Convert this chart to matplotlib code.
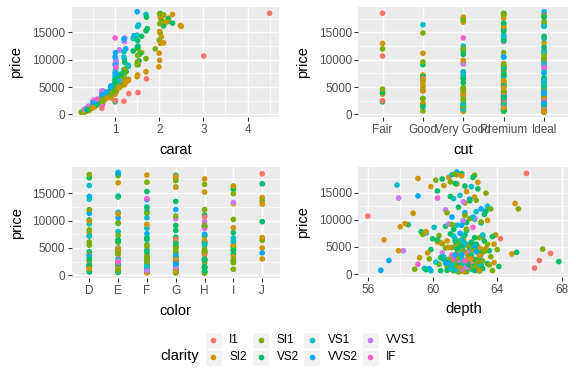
import numpy as np
import matplotlib.pyplot as plt
from matplotlib.patches import Rectangle
from matplotlib.ticker import FixedLocator

plt.rcParams['font.family'] = ['Liberation Sans', 'DejaVu Sans']

# ---------- categories ----------
clarity_levels = ['I1', 'SI2', 'SI1', 'VS2', 'VS1', 'VVS2', 'VVS1', 'IF']
clarity_colors = ['#F8766D', '#CD9600', '#7CAE00', '#00BE67',
                  '#00BFC4', '#00A9FF', '#C77CFF', '#FF61CC']
# rows below come in runs of one clarity: (clarity, number of rows)
clarity_blocks = [('I1', 8), ('SI2', 34), ('SI1', 48), ('VS2', 46), ('VS1', 30),
                  ('VVS2', 18), ('VVS1', 10), ('IF', 6),
                  ('SI2', 14), ('SI1', 20), ('VS2', 20), ('VS1', 12),
                  ('VVS2', 8), ('VVS1', 4), ('IF', 2)]
cut_levels = ['Fair', 'Good', 'Very Good', 'Premium', 'Ideal']
cut_letters = 'FGVPI'
color_levels = ['D', 'E', 'F', 'G', 'H', 'I', 'J']

# ---------- diamonds (one row = one diamond) ----------
carat = [
    4.50, 3.01, 1.52, 1.71, 1.20, 1.31, 0.70, 1.01,                                  # I1
    2.01, 2.02, 2.05, 2.10, 2.21, 2.00, 2.03, 2.30, 2.48, 2.01, 2.05, 1.99, 2.15,
    1.51, 1.70, 1.21, 1.02, 1.10, 1.03, 0.90, 0.91, 0.72, 0.70, 0.51, 0.40, 0.32,
    1.25, 1.50, 1.00, 0.80, 0.31, 1.13, 2.50, 1.52,                                  # SI2
    0.30, 0.33, 0.40, 0.51, 0.53, 0.60, 0.70, 0.71, 0.72, 0.90, 0.91, 1.00, 1.01,
    1.02, 1.05, 1.10, 1.20, 1.21, 1.30, 1.50, 1.51, 1.52, 1.60, 1.70, 2.00, 2.01,
    2.05, 2.10, 2.20, 2.02, 1.91, 0.31, 0.41, 0.50, 0.55, 0.76, 0.80, 1.00, 1.04,
    1.14, 1.23, 0.62, 0.35, 0.71, 1.01, 1.50, 2.01, 0.23,                            # SI1
    0.30, 0.32, 0.40, 0.42, 0.50, 0.52, 0.56, 0.70, 0.71, 0.74, 0.90, 0.92, 1.00,
    1.01, 1.03, 1.06, 1.12, 1.20, 1.22, 1.25, 1.50, 1.51, 1.55, 1.60, 1.70, 1.71,
    1.52, 2.02, 2.10, 2.20, 1.73, 0.31, 0.36, 0.55, 0.60, 0.75, 0.82, 1.04, 1.30,
    1.21, 1.41, 1.01, 1.54, 1.00, 0.51, 2.30,                                        # VS2
    0.30, 0.33, 0.40, 0.52, 0.54, 0.70, 0.71, 0.90, 1.00, 1.01, 1.02, 1.10, 1.20,
    1.30, 1.50, 1.51, 1.52, 1.70, 1.53, 0.31, 0.50, 0.61, 0.80, 1.00, 1.20, 0.40,
    0.72, 1.02, 1.41, 0.35,                                                          # VS1
    0.30, 0.40, 0.51, 0.55, 0.70, 0.71, 1.00, 1.01, 1.02, 1.20, 1.24, 1.50, 1.43,
    0.32, 0.61, 0.90, 1.00, 0.81,                                                    # VVS2
    0.31, 0.41, 0.52, 0.72, 1.00, 1.01, 1.21, 1.22, 0.70, 1.10,                      # VVS1
    0.35, 0.50, 0.60, 1.02, 0.72, 1.00,                                              # IF
    1.00, 1.01, 1.05, 1.11, 1.20, 0.90, 0.71, 0.50, 0.41, 1.03, 1.30, 0.76, 1.01,
    1.23,                                                                            # SI2
    0.30, 0.38, 0.42, 0.52, 0.58, 0.70, 0.72, 0.74, 0.90, 0.95, 1.00, 1.02, 1.06,
    1.11, 1.20, 0.31, 0.46, 0.57, 0.81, 1.03,                                        # SI1
    0.30, 0.34, 0.41, 0.50, 0.53, 0.61, 0.70, 0.72, 0.80, 0.90, 1.00, 1.01, 1.02,
    1.10, 1.14, 0.33, 0.45, 0.58, 0.91, 1.05,                                        # VS2
    0.31, 0.40, 0.51, 0.56, 0.71, 0.75, 0.90, 1.00, 1.01, 1.04, 0.33, 0.62,          # VS1
    0.31, 0.41, 0.50, 0.72, 0.90, 1.01, 0.35, 0.60,                                  # VVS2
    0.33, 0.50, 0.70, 1.02,                                                          # VVS1
    0.40, 0.70,                                                                      # IF
]
cut = ("FFPGIVPF"
       "PVPIPGFPPVIPVGPIVPGVPIGIPVPVFIIGPP"
       "IPVIGPIVPIVPIGPIVPIPIVPIPIVPIGFIPVIPIFVIPIGPIGPI"
       "IPIVIPGIPVIPIVPIGPIVIPVIPIGPIVPIPIVIPIPIVFIFGP"
       "IIPIVPIIPIVIPIPIVIGPIIPIIVIPII"
       "IIPIVIPIIPVIPIPIVI"
       "IIPIVIPIGI"
       "IIPIPV"
       "PVIGPVIPIGPIVP"
       "IPIVIPIGIPVIPIGIPVIP"
       "IPIVIPIGPIVIPIPIVPIG"
       "IIPVIPIIVPII"
       "IPIIPIVI"
       "IIPI"
       "IP")
color = ("JHHGFEDG"
         "HGJIHEJFIDGIEHDGFEHIJDFEGHIJDGFHGF"
         "EGFHDEGFIHEGDIFHGEJHGDFIJHGEFIHGEDFHGEHIDGFEHEDH"
         "FDEGHFEGDHFIGEDHFGEIFGHEFDGEIGIGHDEFGIHDFGJEHJ"
         "EGFDGEHFGEDIFHEGFGDHFEDHEGIFDG"
         "FEGDFGEDHFGEDHIGFJ"
         "FGEHFGIFED"
         "FEGHDF"
         "HIGJEFHDGIHFEG"
         "FEGHDGFIEHGDFEHGIEFG"
         "EFGDHEFHGDGEIFHDGFEH"
         "GEFDHGEFDIHE"
         "EFGDEHFG"
         "GFEH"
         "EF")
depth = [
    65.8, 56.0, 62.0, 64.2, 62.5, 67.3, 66.3, 66.6,
    62.1, 61.0, 62.6, 62.0, 59.1, 58.8, 65.1, 61.5, 60.7, 63.4, 61.8, 58.0, 62.8,
    63.9, 59.6, 62.2, 63.0, 61.0, 57.9, 62.9, 59.2, 61.7, 63.8, 62.3, 61.2, 62.0,
    60.3, 63.1, 64.9, 62.4, 61.9, 57.0, 59.9, 58.3,
    61.8, 61.3, 62.5, 61.6, 63.5, 60.4, 62.1, 61.0, 62.8, 61.5, 63.2, 62.2, 61.7,
    64.0, 60.6, 62.4, 62.9, 59.4, 61.9, 61.2, 62.0, 63.6, 60.9, 62.3, 62.7, 61.5,
    60.2, 62.6, 61.1, 63.3, 65.3, 62.0, 58.9, 62.7, 61.4, 61.8, 62.2, 66.8, 60.8,
    61.6, 62.1, 61.3, 63.7, 59.8, 62.5, 63.0, 61.4, 61.6,
    61.5, 60.9, 62.0, 63.1, 61.8, 62.4, 63.4, 61.2, 60.5, 62.6, 61.9, 62.9, 61.4,
    60.0, 62.0, 62.7, 63.7, 61.3, 62.1, 59.3, 61.6, 62.3, 63.2, 61.1, 60.3, 62.5,
    58.5, 61.8, 62.0, 60.6, 62.8, 61.7, 59.6, 62.2, 61.0, 61.6, 62.4, 61.5, 60.8,
    62.6, 63.3, 65.2, 61.9, 67.8, 64.1, 61.4,
    61.4, 62.0, 61.1, 61.9, 62.8, 60.7, 62.3, 61.6, 61.3, 62.1, 63.0, 61.8, 62.5,
    61.5, 61.7, 62.4, 63.4, 61.2, 57.8, 59.9, 62.6, 61.0, 62.2, 62.0, 62.7, 59.5,
    61.7, 60.1, 61.3, 62.4,
    61.6, 62.1, 60.8, 61.4, 62.9, 61.8, 61.2, 62.0, 61.7, 62.3, 63.0, 61.5, 59.1,
    56.8, 57.3, 61.9, 59.6, 62.7,
    61.8, 62.1, 61.6, 62.3, 61.0, 62.6, 61.9, 57.9, 58.2, 60.8,
    61.4, 62.0, 61.3, 62.5, 59.1, 60.3,
    62.2, 63.3, 61.4, 62.8, 60.9, 63.0, 62.5, 61.7, 62.9, 63.8, 61.9, 62.2, 59.7,
    60.5,
    62.1, 61.6, 62.4, 60.9, 61.8, 62.6, 63.1, 61.5, 62.0, 62.7, 61.2, 63.4, 62.3,
    61.7, 60.4, 62.9, 61.0, 62.2, 63.6, 61.9,
    61.9, 62.6, 61.3, 62.2, 63.0, 61.7, 60.7, 62.9, 61.4, 63.5, 62.4, 60.3, 61.8,
    62.6, 61.1, 60.5, 62.8, 61.6, 59.9, 63.2,
    61.6, 62.5, 61.2, 62.9, 61.8, 60.6, 62.3, 61.4, 63.1, 61.9, 62.7, 60.2,
    61.7, 62.2, 60.9, 61.4, 62.6, 61.8, 59.8, 63.0,
    61.5, 62.4, 60.6, 61.9,
    61.9, 61.2,
]
price = [
    18531, 10690, 4000, 6500, 2400, 3800, 1100, 2500,
    15200, 17800, 14200, 13100, 17600, 11200, 13000, 18300, 16300, 9900, 18100, 8700, 16900,
    7200, 7800, 5400, 4600, 4900, 4300, 3400, 3000, 2600, 2100, 1300, 800, 560,
    5900, 6900, 3700, 2900, 480, 6300, 16100, 9300,
    520, 600, 850, 1350, 1700, 1800, 2500, 2700, 2300, 3800, 4200, 5200, 6100,
    4500, 5600, 5900, 6700, 7300, 6400, 9100, 10800, 12000, 11300, 10200, 13600, 16600,
    17300, 18200, 17000, 14900, 12000, 420, 900, 1500, 1650, 2900, 3300, 4600, 4800,
    5300, 8300, 2000, 640, 2800, 4400, 9600, 18400, 380,
    620, 700, 950, 1000, 1500, 1750, 1900, 2600, 3000, 2700, 4200, 3900, 6000,
    6500, 7200, 5500, 6900, 8200, 9500, 7800, 12300, 13500, 11000, 14300, 15300, 17800,
    9100, 18500, 16200, 17500, 15700, 560, 800, 1800, 2100, 3100, 3400, 4700, 8800,
    10100, 11600, 4000, 9800, 2300, 1400, 16700,
    700, 780, 1000, 1800, 1700, 3100, 2800, 4600, 7000, 8000, 9400, 6200, 10500,
    9000, 14500, 16100, 12500, 18300, 16400, 600, 1600, 2300, 3700, 5700, 11500, 1050,
    2700, 8600, 13900, 900,
    800, 1200, 2000, 2500, 3300, 3600, 10500, 11300, 7500, 13800, 12000, 18800, 14400,
    700, 2500, 5200, 7600, 4100,
    900, 1300, 2600, 4300, 9200, 10300, 13300, 14000, 4300, 11800,
    1100, 2400, 2800, 8600, 1800, 14000,
    4100, 4700, 5100, 5000, 6100, 3600, 2300, 1200, 700, 5500, 6200, 2700, 3900,
    5800,
    450, 700, 950, 1400, 1750, 2600, 2400, 2900, 4000, 4300, 4900, 5500, 5300,
    6000, 7100, 560, 1100, 1600, 3200, 4300,
    580, 650, 1000, 1450, 1600, 2000, 2700, 2900, 3300, 4300, 5800, 6300, 5200,
    6700, 7400, 620, 1150, 1900, 4500, 6100,
    680, 1050, 1700, 1900, 3000, 3200, 4800, 6500, 7200, 6800, 760, 2200,
    850, 1300, 2100, 3500, 5000, 9000, 1000, 2600,
    1000, 2300, 3900, 9800,
    1500, 3500,
]

# ---------- derived columns ----------
carat = np.array(carat)
depth = np.array(depth)
price = np.array(price)
clarity_idx = np.concatenate([[clarity_levels.index(c)] * k for c, k in clarity_blocks])
cut_pos = np.array([cut_letters.index(c) + 1 for c in cut])
color_pos = np.array([color_levels.index(c) + 1 for c in color])
pt_col = np.array(clarity_colors)[clarity_idx]
n = len(price)
order = np.array([(i * 73) % n for i in range(n)])   # mix the draw order of the runs

W, H = 576, 384
fig = plt.figure(figsize=(W / 96, H / 96), dpi=96)


def px_axes(x0, y0, x1, y1):
    return fig.add_axes([x0 / W, 1 - y1 / H, (x1 - x0) / W, (y1 - y0) / H])


def expand(v, f=0.05):
    lo, hi = np.min(v), np.max(v)
    r = hi - lo
    return lo - f * r, hi + f * r


def style(ax):
    ax.set_facecolor('#EBEBEB')
    for s in ax.spines.values():
        s.set_visible(False)
    ax.set_axisbelow(True)
    ax.grid(True, which='major', color='white', lw=1.07)
    ax.grid(True, which='minor', color='white', lw=0.53)
    ax.tick_params(which='major', length=2.75, width=0.8, color='#333333',
                   labelsize=8.8, labelcolor='#4D4D4D', pad=2.2)
    ax.tick_params(which='minor', length=0)
    ax.set_ylim(*expand(price))
    ax.yaxis.set_major_locator(FixedLocator([0, 5000, 10000, 15000]))
    ax.yaxis.set_minor_locator(FixedLocator([2500, 7500, 12500, 17500]))
    ax.set_ylabel('price', fontsize=11, color='black', labelpad=6.5)


def points(ax, x):
    ax.scatter(x[order], price[order], c=pt_col[order], s=18, lw=0, zorder=3)


# carat
ax1 = px_axes(71.7, 6.7, 279, 117.3)
style(ax1)
points(ax1, carat)
ax1.set_xlim(*expand(carat))
ax1.xaxis.set_major_locator(FixedLocator([0, 1, 2, 3, 4]))
ax1.xaxis.set_minor_locator(FixedLocator([0.5, 1.5, 2.5, 3.5, 4.5]))
ax1.set_xlabel('carat', fontsize=11, labelpad=5)

# cut
ax2 = px_axes(358.3, 6.7, 568.3, 117.3)
style(ax2)
points(ax2, cut_pos)
ax2.set_xlim(0.4, len(cut_levels) + 0.6)
ax2.xaxis.set_major_locator(FixedLocator(range(1, len(cut_levels) + 1)))
ax2.set_xticklabels(cut_levels)
ax2.set_xlabel('cut', fontsize=11, labelpad=5)

# color
ax3 = px_axes(72, 167.3, 279.5, 278.3)
style(ax3)
points(ax3, color_pos)
ax3.set_xlim(0.4, len(color_levels) + 0.6)
ax3.xaxis.set_major_locator(FixedLocator(range(1, len(color_levels) + 1)))
ax3.set_xticklabels(color_levels)
ax3.set_xlabel('color', fontsize=11, labelpad=5)

# depth
ax4 = px_axes(358.3, 167, 568.3, 277)
style(ax4)
points(ax4, depth)
ax4.set_xlim(*expand(depth))
ax4.xaxis.set_major_locator(FixedLocator([56, 60, 64, 68]))
ax4.xaxis.set_minor_locator(FixedLocator([58, 62, 66]))
ax4.set_xlabel('depth', fontsize=11, labelpad=5)

# ---------- legend (drawn in pixel coordinates) ----------
lax = fig.add_axes([0, 0, 1, 1])
lax.set_xlim(0, W)
lax.set_ylim(H, 0)
lax.axis('off')
lax.text(160, 356, 'clarity', fontsize=11, ha='left', va='center')
key_x = [204.5, 252, 303, 361.5]
key_y = [331.5, 348.8]
key = 17.3
for i, (lab, col) in enumerate(zip(clarity_levels, clarity_colors)):
    cx, ry = key_x[i // 2], key_y[i % 2]
    lax.add_patch(Rectangle((cx, ry), key, key, facecolor='#F2F2F2',
                            edgecolor='white', lw=1))
    lax.scatter([cx + key / 2], [ry + key / 2], s=18, c=col, lw=0)
    lax.text(cx + key + 7.3, ry + key / 2, lab, fontsize=8.8,
             ha='left', va='center')

fig.savefig('out.png', dpi=96, facecolor='white')
